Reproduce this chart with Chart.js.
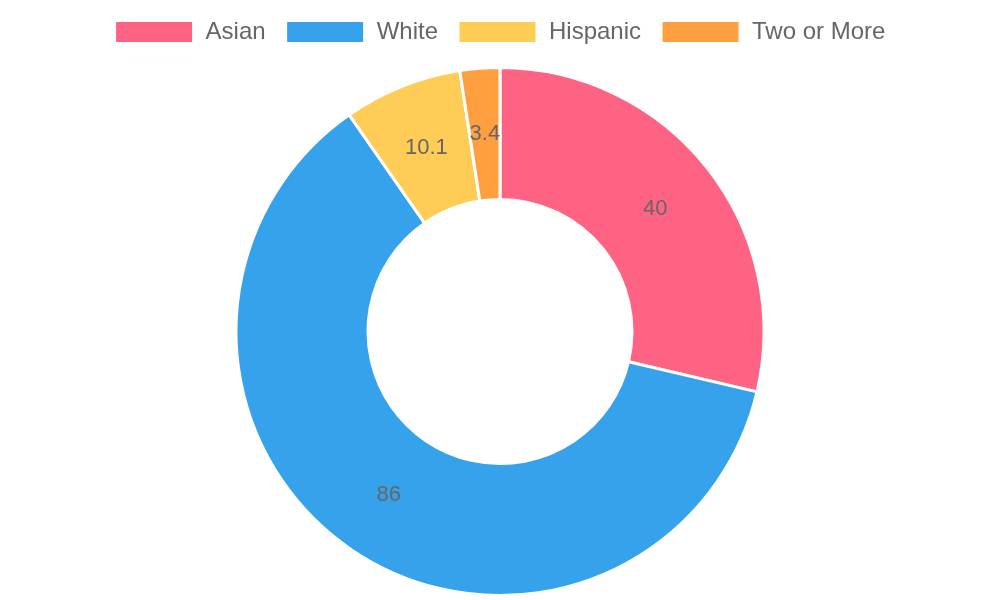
<!DOCTYPE html>
<html>
<head>
<meta charset="utf-8">
<script src="https://cdn.jsdelivr.net/npm/chart.js@4"></script>
<style>
  html, body { margin: 0; padding: 0; background: #fff; }
  #wrap { width: 1000px; height: 600px; }
</style>
</head>
<body>
<div id="wrap"><canvas id="myChart" width="1000" height="600"></canvas></div>
<script>
// Categories and values
var labels = ["Asian", "White", "Hispanic", "Two or More"];
var values = [40, 86, 10.1, 3.4];
var colors = ["rgb(255, 99, 132)", "rgb(54, 162, 235)", "rgb(255, 205, 86)", "rgb(255, 159, 64)"];

// Draws the value in the middle of each slice
var sliceLabels = {
    id: 'sliceLabels',
    afterDatasetsDraw: function(chart) {
        var ctx = chart.ctx;
        var meta = chart.getDatasetMeta(0);
        ctx.save();
        ctx.font = '22px "Liberation Sans", Arial, sans-serif';
        ctx.fillStyle = '#666';
        ctx.textAlign = 'center';
        ctx.textBaseline = 'middle';
        meta.data.forEach(function(arc, i) {
            var p = arc.getCenterPoint();
            ctx.fillText(String(values[i]), p.x, p.y);
        });
        ctx.restore();
    }
};

// Adds some space under the legend
var legendGap = {
    id: 'legendGap',
    beforeInit: function(chart) {
        var fit = chart.legend.fit;
        chart.legend.fit = function() {
            fit.bind(chart.legend)();
            this.height += 12;
        };
    }
};

var ctx = document.getElementById('myChart').getContext('2d');
var chart = new Chart(ctx, {
    type: 'doughnut',
    data: {
        labels: labels,
        datasets: [{
            data: values,
            backgroundColor: colors,
            borderColor: '#fff',
            borderWidth: 3
        }]
    },
    options: {
        responsive: false,
        animation: false,
        cutout: '50%',
        layout: { padding: { bottom: 3 } },
        plugins: {
            legend: {
                position: 'top',
                labels: {
                    boxWidth: 79,
                    boxHeight: 23,
                    padding: 20,
                    color: '#666',
                    font: { family: '"Liberation Sans", Arial, sans-serif', size: 24 }
                }
            },
            tooltip: { enabled: false }
        }
    },
    plugins: [sliceLabels, legendGap]
});
</script>
</body>
</html>
